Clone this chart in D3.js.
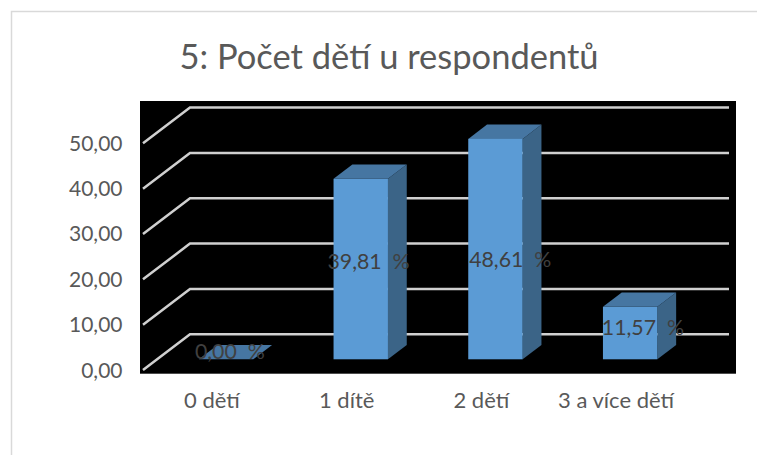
<!DOCTYPE html>
<html>
<head>
<meta charset="utf-8">
<script src="https://cdn.jsdelivr.net/npm/d3@7"></script>
<style>
  body { margin: 0; background: #fff; }
  text { font-family: "Lato", sans-serif; fill: #595959; }
</style>
</head>
<body>
<div id="chart"></div>
<script>
const categories = ["0 dětí", "1 dítě", "2 dětí", "3 a více dětí"];
const values = [0, 39.81, 48.61, 11.57];
const valueLabels = ["0,00  %", "39,81  %", "48,61  %", "11,57  %"];
const yTicks = [0, 10, 20, 30, 40, 50];

const svg = d3.select("#chart").append("svg")
    .attr("width", 757)
    .attr("height", 455)
    .style("display", "block");

// chart frame
svg.append("path")
    .attr("d", "M11.5,455V11.5H757")
    .attr("fill", "none")
    .attr("stroke", "#d9d9d9")
    .attr("stroke-width", 1.5);

// plot background
svg.append("rect")
    .attr("x", 140).attr("y", 101)
    .attr("width", 596).attr("height", 272.7)
    .attr("fill", "#000");

let x = d3.scaleBand().domain(categories).range([144.6, 683.4]);
let y = d3.scaleLinear().domain([0, 50]).range([370, 143.3]);

// 3d floor depth
const depthX = 47, depthY = 35.7;
const barWidth = 54.4;
const barFront = 0.3, barBack = 0.7;

// gridlines, front left edge then back wall
svg.append("g").selectAll("path")
    .data(yTicks)
    .enter()
    .append("path")
    .attr("d", d => `M143,${y(d)}L${143 + depthX},${y(d) - depthY}H729`)
    .attr("fill", "none")
    .attr("stroke", "#d0d0d0")
    .attr("stroke-width", 2.5);

// y tick labels
svg.append("g").selectAll("text")
    .data(yTicks)
    .enter()
    .append("text")
    .attr("x", 122.5)
    .attr("y", d => y(d) + 7.5)
    .attr("text-anchor", "end")
    .attr("font-size", 21)
    .text(d => d3.format(".2f")(d).replace(".", ","));

// x labels
svg.append("g").selectAll("text")
    .data(categories)
    .enter()
    .append("text")
    .attr("x", d => x(d) + x.bandwidth() / 2)
    .attr("y", 408)
    .attr("text-anchor", "middle")
    .attr("font-size", 22)
    .text(d => d);

// bars
let bars = svg.append("g").selectAll("g")
    .data(categories)
    .enter()
    .append("g");

let barLeft = d => x(d) + x.bandwidth() / 2 - barWidth / 2 + depthX * barFront;
let barBottom = y(0) - depthY * barFront;
let barTop = (i) => barBottom - (y(0) - y(values[i]));
let dx = depthX * (barBack - barFront), dy = depthY * (barBack - barFront);

// side
bars.append("path")
    .attr("fill", "#3b6487")
    .attr("d", (d, i) => {
        let r = barLeft(d) + barWidth;
        return `M${r},${barBottom}L${r + dx},${barBottom - dy}V${barTop(i) - dy}L${r},${barTop(i)}Z`;
    });

// top
bars.append("path")
    .attr("fill", "#4676a2")
    .attr("d", (d, i) => {
        let l = barLeft(d);
        return `M${l},${barTop(i)}L${l + dx},${barTop(i) - dy}H${l + dx + barWidth}L${l + barWidth},${barTop(i)}Z`;
    });

// front
bars.append("rect")
    .attr("fill", "#5b9bd5")
    .attr("x", d => barLeft(d))
    .attr("y", (d, i) => barTop(i))
    .attr("width", barWidth)
    .attr("height", (d, i) => barBottom - barTop(i));

// value labels, hand placed per bar like in the original
const labelNudgeX = [31, 35, 42, 40];
const labelNudgeY = [0, 0, 18, 2];
bars.append("text")
    .attr("x", (d, i) => barLeft(d) + labelNudgeX[i])
    .attr("y", (d, i) => (barBottom + barTop(i)) / 2 + labelNudgeY[i])
    .attr("text-anchor", "middle")
    .attr("font-size", 21.3)
    .attr("xml:space", "preserve")
    .style("fill", "#404040")
    .text((d, i) => valueLabels[i]);

// title
svg.append("text")
    .attr("x", 389)
    .attr("y", 68.5)
    .attr("text-anchor", "middle")
    .attr("font-size", 34.5)
    .text("5: Počet dětí u respondentů");
</script>
</body>
</html>
